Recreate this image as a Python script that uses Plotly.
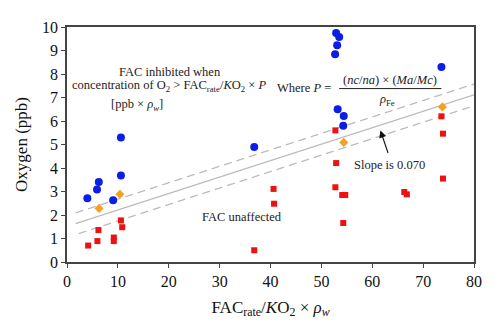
import plotly.graph_objects as go

# FAC inhibited (blue circles)
blue_x = [10.6, 10.6, 6.25, 5.9, 4.0, 9.07, 52.9, 53.5, 53.1, 52.7, 53.2, 54.4, 54.3, 36.8, 73.6]
blue_y = [5.30, 3.68, 3.40, 3.08, 2.71, 2.63, 9.75, 9.57, 9.22, 8.84, 6.50, 6.21, 5.80, 4.89, 8.30]

# Borderline cases (orange diamonds)
orange_x = [10.4, 6.3, 54.4, 73.8]
orange_y = [2.88, 2.28, 5.09, 6.60]

# FAC unaffected (red squares)
red_x = [10.6, 10.85, 6.18, 5.98, 9.2, 9.2, 4.15,
         52.75, 52.9, 52.75, 54.1, 54.7, 54.3,
         40.6, 40.7, 36.8,
         73.6, 73.9, 73.9, 66.3, 66.8]
red_y = [1.77, 1.48, 1.36, 0.89, 1.04, 0.89, 0.70,
         5.60, 4.21, 3.18, 2.85, 2.85, 1.66,
         3.11, 2.48, 0.50,
         6.20, 5.46, 3.55, 2.98, 2.88]

# Threshold line (slope 0.070) and its band
slope = 0.070
intercept = 1.51
band = 0.46
line_x = [1.7, 80]
upper_x = [1.7, 80]
lower_x = [2.3, 80]

font_family = "Liberation Serif"

fig = go.Figure()

fig.add_trace(go.Scatter(
    x=line_x, y=[intercept + slope * v for v in line_x], mode="lines",
    line=dict(color="#bbbbbb", width=1.3), showlegend=False, hoverinfo="skip"))
fig.add_trace(go.Scatter(
    x=upper_x, y=[intercept + band + slope * v for v in upper_x], mode="lines",
    line=dict(color="#bbbbbb", width=1.3, dash="8px,5px"), showlegend=False, hoverinfo="skip"))
fig.add_trace(go.Scatter(
    x=lower_x, y=[intercept - band + slope * v for v in lower_x], mode="lines",
    line=dict(color="#bbbbbb", width=1.3, dash="8px,5px"), showlegend=False, hoverinfo="skip"))

fig.add_trace(go.Scatter(
    x=red_x, y=red_y, mode="markers",
    marker=dict(symbol="square", size=6, color="#ee1111"), showlegend=False))
fig.add_trace(go.Scatter(
    x=orange_x, y=orange_y, mode="markers",
    marker=dict(symbol="diamond", size=7, color="#f5a020"), showlegend=False))
fig.add_trace(go.Scatter(
    x=blue_x, y=blue_y, mode="markers",
    marker=dict(symbol="circle", size=8, color="#0a1ee6"), showlegend=False))

ann_font = dict(family=font_family, size=12.5, color="#222222")

def note(x, y, text, xanchor="center"):
    fig.add_annotation(x=x, y=y, xref="x", yref="y", text=text, showarrow=False,
                       font=ann_font, xanchor=xanchor, yanchor="middle")

note(20.2, 8.07, "FAC inhibited when")
note(20.0, 7.47, "concentration of O<sub>2</sub> &gt; FAC<sub>rate</sub>/<i>K</i>O<sub>2</sub> × <i>P</i>")
note(13.75, 6.67, "[ppb × <i>ρ<sub>w</sub></i>]")
note(46.6, 7.39, "Where <i>P</i> =")
note(63.5, 7.75, "(<i>nc</i>/<i>na</i>) × (<i>Ma</i>/<i>Mc</i>)")
note(62.8, 6.88, "<i>ρ</i><sub>Fe</sub>")
note(63.3, 4.11, "Slope is 0.070")
note(34.3, 1.90, "FAC unaffected")

# fraction bar
fig.add_shape(type="line", xref="x", yref="y", x0=53.5, x1=73.6, y0=7.38, y1=7.38,
              line=dict(color="#222222", width=1))

# arrow pointing at the threshold line
fig.add_annotation(x=61.6, y=5.60, ax=63.2, ay=4.58, xref="x", yref="y",
                   axref="x", ayref="y", text="", showarrow=True,
                   arrowhead=2, arrowsize=1.2, arrowwidth=1.2, arrowcolor="#111111")

axis_common = dict(showline=True, linecolor="#444444", linewidth=1.5, mirror=True,
                   ticks="outside", ticklen=4, tickcolor="#444444", tickwidth=1.2,
                   showgrid=False, zeroline=False,
                   tickfont=dict(family=font_family, size=16, color="#111111"))

fig.update_xaxes(range=[0, 80], tickvals=list(range(0, 81, 10)),
                 title=dict(text="FAC<sub>rate</sub>/<i>K</i>O<sub>2</sub> × <i>ρ<sub>w</sub></i>",
                            font=dict(family=font_family, size=17, color="#111111"),
                            standoff=12),
                 **axis_common)
fig.update_yaxes(range=[0, 10], tickvals=list(range(0, 11)),
                 title=dict(text="Oxygen (ppb)",
                            font=dict(family=font_family, size=17, color="#111111"),
                            standoff=10),
                 **axis_common)

fig.update_layout(width=500, height=333,
                  margin=dict(l=67, r=26, t=27, b=71),
                  paper_bgcolor="white", plot_bgcolor="white",
                  font=dict(family=font_family))

fig.write_html("out.html")
